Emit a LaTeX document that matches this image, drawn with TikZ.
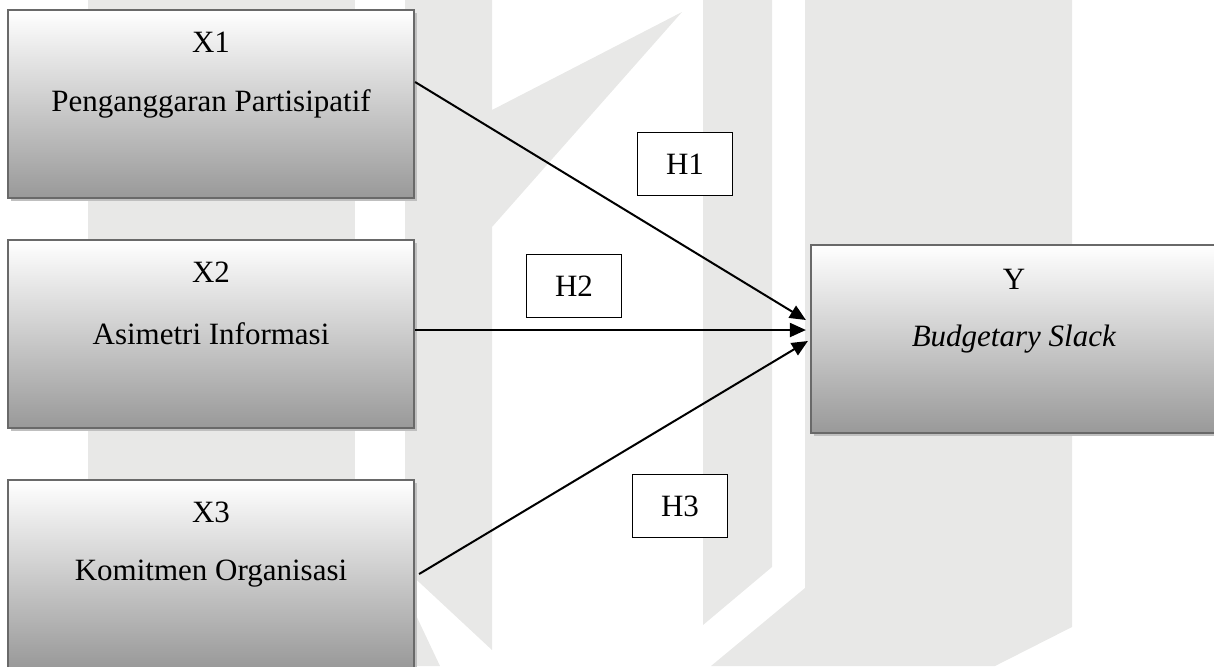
\documentclass[tikz,border=0pt]{standalone}
\usepackage{fontspec}
\setmainfont{Liberation Serif}
\usetikzlibrary{arrows, arrows.meta}
\usetikzlibrary{positioning}
\usetikzlibrary{calc}
\usetikzlibrary{shadows}
\definecolor{wmgray}{RGB}{232,232,231}
\definecolor{boxedge}{RGB}{105,105,105}
\tikzset{
  varbox/.style={draw=boxedge, line width=1.1pt, minimum width=203pt, minimum height=94pt,
    top color=white, bottom color=black!40,
    drop shadow={shadow xshift=1.5pt, shadow yshift=-1.5pt, fill=black!25, opacity=1}},
  hbox/.style={draw, line width=0.8pt, fill=white, minimum width=47.5pt, minimum height=31.5pt},
  link/.style={line width=1pt, -{Triangle[length=8pt,width=7pt]}}
}

\begin{document}
\begin{tikzpicture}[x=0.5pt, y=-0.5pt, font=\fontsize{15.5}{18}\selectfont]
	\useasboundingbox (0,0) rectangle (1214,666);
	% watermark in the background
	\fill[wmgray] (88,0) rectangle (355,666);
	\fill[wmgray] (405,0) -- (492,0) -- (492,110) -- (682,12) -- (492,227) -- (492,650) -- (405,569) -- cycle;
	\fill[wmgray] (405,592) -- (440,666) -- (405,666) -- cycle;
	\fill[wmgray] (703,0) -- (772,0) -- (772,567) -- (703,625) -- cycle;
	\fill[wmgray] (805,0) -- (1072,0) -- (1072,627) -- (995,666) -- (711,666) -- (805,588) -- cycle;
	
	% variables
	\node[varbox, label={[anchor=center, yshift=-16.5pt]north:X1}] (x1) at (211,104) {Penganggaran Partisipatif};
	\node[varbox, label={[anchor=center, yshift=-16.5pt]north:X2}] (x2) at (211,334) {Asimetri Informasi};
	\node[varbox, label={[anchor=center, yshift=-16.5pt]north:X3}] (x3) at (211,574) {Komitmen Organisasi};
	\node[varbox, label={[anchor=center, yshift=-17.5pt]north:Y}] (y) at (1014,339) {\textit{Budgetary Slack}};
	
	% hypotheses
	\node[hbox] (h1) at (685,164) {H1};
	\node[hbox] (h2) at (574,286) {H2};
	\node[hbox] (h3) at (680,506) {H3};
	
	% draw arrows
	\draw[link] ([yshift=11pt]x1.east) -- ([xshift=-2pt, yshift=9.5pt]y.west);
	\draw[link] ([yshift=2pt]x2.east) -- ([xshift=-2pt, yshift=4.5pt]y.west);
	\draw[link] ([xshift=2pt]x3.east) -- ([xshift=-1pt, yshift=-1pt]y.west);
\end{tikzpicture}
\end{document}
